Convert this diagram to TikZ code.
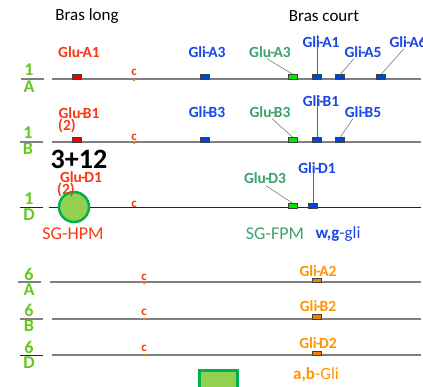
\documentclass[tikz,border=0pt]{standalone}
\usepackage{fontspec}
\setmainfont{Carlito}
\usetikzlibrary{calc}
\definecolor{cred}{RGB}{250,55,20}
\definecolor{cblue}{RGB}{25,70,230}
\definecolor{cgreen}{RGB}{60,160,110}
\definecolor{corange}{RGB}{255,150,0}
\definecolor{clime}{RGB}{100,200,30}
\definecolor{mred}{RGB}{240,0,0}
\definecolor{mblue}{RGB}{0,70,210}
\definecolor{mgreen}{RGB}{0,230,0}
\definecolor{morange}{RGB}{240,130,0}
\definecolor{blobfill}{RGB}{146,208,80}
\definecolor{blobedge}{RGB}{0,176,80}
\newcommand\hy{\kern-0.06em-\kern-0.1em}
\tikzset{
  chrom/.style={draw=black!50, line width=1.2pt},
  chromdark/.style={draw=black!85, line width=1pt},
  mk/.style={draw=black!75, line width=0.5pt, minimum width=9pt, minimum height=4.5pt, inner sep=0pt, anchor=south},
  lab/.style={font=\bfseries\fontsize{15.5}{15.5}\selectfont, inner sep=0pt},
  small/.style={font=\bfseries\fontsize{13}{13}\selectfont, inner sep=0pt, text=cred},
  frac/.style={font=\bfseries\fontsize{18}{18}\selectfont, inner sep=0pt, text=clime},
  big/.style={font=\fontsize{17}{17}\selectfont, inner sep=0pt},
  lead/.style={draw=black!60, line width=0.5pt},
  cen/.style={circle, fill=morange, inner sep=0pt, minimum size=3pt},
  blob/.style={fill=blobfill, draw=blobedge, line width=2.5pt}
}
\begin{document}
\begin{tikzpicture}[x=1pt,y=-1pt]
\useasboundingbox (0,0) rectangle (423,387);

% arm headings
\node[big] (armL) at (87,16) {Bras long};
\node[big] (armS) at (324,16) {Bras court};

% chromosome lines
\coordinate (L1A) at (52,79);  \coordinate (R1A) at (421,79);
\coordinate (L1B) at (52,142); \coordinate (R1B) at (421,142);
\coordinate (L1D) at (49,208); \coordinate (R1D) at (421,208);
\coordinate (L6A) at (50,282); \coordinate (R6A) at (421,282);
\coordinate (L6B) at (52,319); \coordinate (R6B) at (421,319);
\coordinate (L6D) at (52,355); \coordinate (R6D) at (421,355);
\draw[chrom] (L1A) -- (R1A);
\draw[chrom] (L1B) -- (R1B);
\draw[chromdark] (L1D) -- (R1D);
\draw[chrom] (L6A) -- (R6A);
\draw[chrom] (L6B) -- (R6B);
\draw[chrom] (L6D) -- (R6D);

% chromosome names
\node[frac] (t1A) at (29,70) {1};  \node[frac] (b1A) at (29,87) {A};
\node[frac] (t1B) at (28,133) {1}; \node[frac] (b1B) at (28,149) {B};
\node[frac] (t1D) at (29,199) {1}; \node[frac] (b1D) at (29,215) {D};
\node[frac] (t6A) at (29,274) {6}; \node[frac] (b6A) at (29,290) {A};
\node[frac] (t6B) at (29,310) {6}; \node[frac] (b6B) at (29,326) {B};
\node[frac] (t6D) at (29,347) {6}; \node[frac] (b6D) at (29,363) {D};
\coordinate (f1Aa) at (21,79);  \coordinate (f1Ab) at (44,79);
\coordinate (f1Ba) at (20,142); \coordinate (f1Bb) at (43,142);
\coordinate (f1Da) at (20,208); \coordinate (f1Db) at (43,208);
\coordinate (f6Aa) at (18,282); \coordinate (f6Ab) at (41,282);
\coordinate (f6Ba) at (20,319); \coordinate (f6Bb) at (43,319);
\coordinate (f6Da) at (20,355); \coordinate (f6Db) at (43,355);
\draw[chrom] (f1Aa) -- (f1Ab);
\draw[chrom] (f1Ba) -- (f1Bb);
\draw[chromdark] (f1Da) -- (f1Db);
\draw[chrom] (f6Aa) -- (f6Ab);
\draw[chrom] (f6Ba) -- (f6Bb);
\draw[chromdark] (f6Da) -- (f6Db);

% centromeres
\node[cen] (k1A) at (134,80) {};
\node[cen] (k1B) at (134,143) {};
\node[cen] (k6A) at (144,283) {};
\node[cen] (k6B) at (144,319) {};
\node[cen] (k6D) at (144,355) {};
\node[small] (c1A) at (134,72) {c};
\node[small] (c1B) at (134,137) {c};
\node[small] (c1D) at (134,204) {c};
\node[small] (c6A) at (144,277) {c};
\node[small] (c6B) at (144,312) {c};
\node[small] (c6D) at (144,348) {c};

% group 1A
\node[mk, fill=mred]   (mGluA1) at (77,79.5) {};
\node[mk, fill=mblue]  (mGliA3) at (205,79.5) {};
\node[mk, fill=mgreen] (mGluA3) at (293,79.5) {};
\node[mk, fill=mblue]  (mGliA1) at (317,79.5) {};
\node[mk, fill=mblue]  (mGliA5) at (340,79.5) {};
\node[mk, fill=mblue]  (mGliA6) at (381,79.5) {};
\node[lab, text=cred]   (GluA1) at (79,52) {Glu\hy A1};
\node[lab, text=cblue]  (GliA3) at (207,52) {Gli\hy A3};
\node[lab, text=cgreen] (GluA3) at (270,52) {Glu\hy A3};
\node[lab, text=cblue]  (GliA5) at (363,52) {Gli\hy A5};
\node[lab, text=cblue]  (GliA6) at (408,42) {Gli\hy A6};
\draw[lead] ($(GluA3.south)+(-3,1)$) -- (mGluA3.north);
\draw[lead] (mGliA1.north) -- (mGliA1.north |- 0,35);
\node[lab, text=cblue]  (GliA1) at (321,42) {Gli\hy A1};
\draw[lead] ($(GliA5.south)+(-9,1)$) -- (mGliA5.north);
\draw[lead] ($(GliA6.south)+(-4,1)$) -- (mGliA6.north);

% group 1B
\node[mk, fill=mred]   (mGluB1) at (77,142.5) {};
\node[mk, fill=mblue]  (mGliB3) at (205,142.5) {};
\node[mk, fill=mgreen] (mGluB3) at (293,142.5) {};
\node[mk, fill=mblue]  (mGliB1) at (317,142.5) {};
\node[mk, fill=mblue]  (mGliB5) at (340,142.5) {};
\node[lab, text=cred]   (GluB1) at (79,113) {Glu\hy B1};
\node[lab, text=cred]   (GluB1n) at (67,126) {(2)};
\node[lab, text=cblue]  (GliB3) at (207,112) {Gli\hy B3};
\node[lab, text=cgreen] (GluB3) at (270,112) {Glu\hy B3};
\node[lab, text=cblue]  (GliB5) at (363,112) {Gli\hy B5};
\draw[lead] ($(GluB3.south)+(2,1)$) -- (mGluB3.north);
\draw[lead] (mGliB1.north) -- (mGliB1.north |- 0,95);
\node[lab, text=cblue]  (GliB1) at (321,101) {Gli\hy B1};
\draw[lead] ($(GliB5.south)+(-10,1)$) -- (mGliB5.north);

\node[font=\bfseries\fontsize{28}{28}\selectfont, inner sep=0pt] (sum) at (79,159) {3+12};

% group 1D
\node[blob, circle, minimum size=30pt, inner sep=0pt] (GluD1b) at (74,207) {};
\node[lab, text=cred]   (GluD1) at (81,177) {Glu\hy D1};
\node[lab, text=cred]   (GluD1n) at (66,190) {(2)};
\node[mk, fill=mgreen] (mGluD3) at (293,208.5) {};
\node[mk, fill=mblue]  (mGliD1) at (313,208.5) {};
\node[lab, text=cgreen] (GluD3) at (265,178) {Glu\hy D3};
\draw[lead] ($(GluD3.south)+(1,2)$) -- (mGluD3.north);
\draw[lead] (mGliD1.north) -- (mGliD1.north |- 0,170);
\node[lab, text=cblue]  (GliD1) at (317,168) {Gli\hy D1};

\node[big, font=\fontsize{18}{18}\selectfont, text=cred]   (hpm) at (73,234) {SG-HPM};
\node[big, font=\fontsize{18}{18}\selectfont, text=cgreen] (fpm) at (275,234) {SG-FPM};
\node[big, text=cblue]  (wg)  at (338,234) {\textbf{w,g}-gli};

% group 6
\node[mk, fill=morange] (mGliA2) at (317,283) {};
\node[mk, fill=morange] (mGliB2) at (317,319.5) {};
\node[mk, fill=morange] (mGliD2) at (317,355.5) {};
\node[lab, text=corange] (GliA2) at (318,271) {Gli\hy A2};
\node[lab, text=corange] (GliB2) at (318,306) {Gli\hy B2};
\node[lab, text=corange] (GliD2) at (318,343) {Gli\hy D2};

\node[blob, line width=3pt, minimum size=38pt, inner sep=0pt, anchor=north west] (abbox) at (198,369) {};
\node[big, text=corange] (ab) at (316,375) {\textbf{a,b}-Gli};
\end{tikzpicture}
\end{document}
